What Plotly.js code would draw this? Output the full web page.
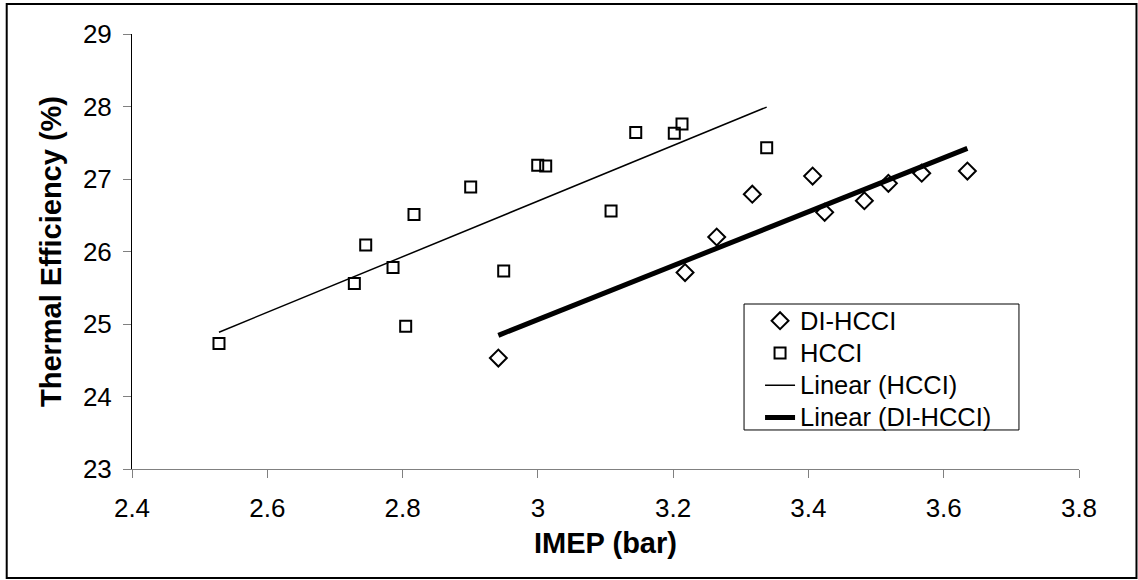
<!DOCTYPE html>
<html>
<head>
<meta charset="utf-8">
<script src="https://cdn.plot.ly/plotly-3.0.1.min.js"></script>
<style>
html,body{margin:0;padding:0;background:#fff;}
#chart{width:1138px;height:580px;}
</style>
</head>
<body>
<div id="chart"></div>
<script>
// DI-HCCI data
const diX = [2.9416, 3.2176, 3.2644, 3.317, 3.4062, 3.424, 3.4827, 3.5182, 3.5675, 3.635];
const diY = [24.53, 25.71, 26.20, 26.79, 27.04, 26.54, 26.70, 26.94, 27.08, 27.11];
// HCCI data
const hcX = [2.5286, 2.7287, 2.7455, 2.7859, 2.8046, 2.8169, 2.9007, 2.9495, 2.9998, 3.0116, 3.1082, 3.1447, 3.2017, 3.2131, 3.3383];
const hcY = [24.73, 25.56, 26.09, 25.78, 24.97, 26.51, 26.89, 25.73, 27.19, 27.18, 26.56, 27.64, 27.63, 27.76, 27.43];

const xTicks = [2.4, 2.6, 2.8, 3, 3.2, 3.4, 3.6, 3.8];
const xTickText = ["2.4", "2.6", "2.8", "3", "3.2", "3.4", "3.6", "3.8"];
const yTicks = [23, 24, 25, 26, 27, 28, 29];
const seriesNames = ["DI-HCCI", "HCCI", "Linear (HCCI)", "Linear (DI-HCCI)"];

// Least-squares linear trendline spanning the data's x extent
function trend(xs, ys) {
  const n = xs.length;
  const mx = xs.reduce((a, b) => a + b, 0) / n;
  const my = ys.reduce((a, b) => a + b, 0) / n;
  let sxy = 0, sxx = 0;
  for (let i = 0; i < n; i++) { sxy += (xs[i] - mx) * (ys[i] - my); sxx += (xs[i] - mx) ** 2; }
  const b = sxy / sxx, a = my - b * mx;
  const x0 = Math.min(...xs), x1 = Math.max(...xs);
  return { x: [x0, x1], y: [a + b * x0, a + b * x1] };
}
const hcT = trend(hcX, hcY);
const diT = trend(diX, diY);

const FONT = "Liberation Sans, Arial, Helvetica, sans-serif";
const lg = s => '<span style="font-size:25.5px">' + s + '</span>';

const traces = [
  { x: diX, y: diY, name: lg(seriesNames[0]), mode: "markers", type: "scatter",
    marker: { symbol: "diamond-open", size: 13, color: "#000", line: { width: 2, color: "#000" } } },
  { x: hcX, y: hcY, name: lg(seriesNames[1]), mode: "markers", type: "scatter",
    marker: { symbol: "square-open", size: 11, color: "#000", line: { width: 2, color: "#000" } } },
  { x: hcT.x, y: hcT.y, name: lg(seriesNames[2]), mode: "lines", type: "scatter",
    line: { color: "#000", width: 1.5 } },
  { x: diT.x, y: diT.y, name: lg(seriesNames[3]), mode: "lines", type: "scatter",
    line: { color: "#000", width: 5 } }
];

const layout = {
  width: 1138, height: 580,
  margin: { l: 132, r: 59, t: 34, b: 111 },
  paper_bgcolor: "#fff", plot_bgcolor: "#fff",
  font: { family: FONT, size: 26, color: "#000" },
  showlegend: true,
  legend: {
    x: 0.6632, y: 0.3894, xanchor: "left", yanchor: "top",
    bgcolor: "rgba(0,0,0,0)", bordercolor: "#000", borderwidth: 0,
    font: { family: FONT, size: 22.5, color: "#000" },
    tracegroupgap: 0
  },
  xaxis: {
    range: [2.4, 3.8], tickvals: xTicks, ticktext: xTickText,
    showgrid: false, zeroline: false, showline: true, linecolor: "#808080", linewidth: 1,
    ticks: "outside", ticklen: 8, tickcolor: "#808080", ticklabelstandoff: 8,
    tickfont: { family: FONT, size: 26, color: "#000" },
    title: { text: "<b>IMEP (bar)</b>", font: { family: FONT, size: 29, color: "#000" }, standoff: 10 }
  },
  yaxis: {
    range: [23, 29], tickvals: yTicks,
    showgrid: false, zeroline: false, showline: true, linecolor: "#000", linewidth: 1,
    ticks: "outside", ticklen: 8, tickcolor: "#808080", ticklabelstandoff: 6,
    tickfont: { family: FONT, size: 26, color: "#000" },
    title: { text: "<b>Thermal Efficiency (%)</b>", font: { family: FONT, size: 29, color: "#000" }, standoff: 12 }
  },
  shapes: [
    { type: "rect", xref: "paper", yref: "paper",
      x0: -0.1323, x1: 1.0607, y0: -0.2506, y1: 1.069,
      line: { color: "#000", width: 2 }, fillcolor: "rgba(0,0,0,0)", layer: "below" },
    { type: "rect", xref: "paper", yref: "paper",
      x0: 0.6463, x1: 0.9366, y0: 0.0897, y1: 0.3793,
      line: { color: "#000", width: 1 }, fillcolor: "#fff", layer: "above" }
  ]
};

Plotly.newPlot("chart", traces, layout, { displayModeBar: false, staticPlot: true });
</script>
</body>
</html>
